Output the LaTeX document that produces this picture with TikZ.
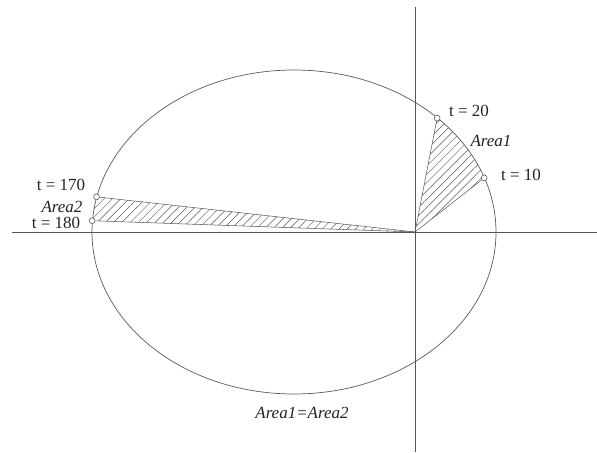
\documentclass[tikz,border=0pt]{standalone}
\usepackage{fontspec}
\setmainfont{Liberation Serif}
\usetikzlibrary{patterns.meta,positioning}
\definecolor{axiscolor}{RGB}{85,85,85}
\definecolor{orbitcolor}{RGB}{90,90,90}
\definecolor{labelcolor}{RGB}{35,35,35}

\begin{document}
\begin{tikzpicture}[x=0.03cm,y=0.03cm,
    orbit/.style={orbitcolor, line width=0.6pt},
    axis/.style={axiscolor, line width=0.8pt},
    radius line/.style={orbitcolor, line width=0.45pt},
    posmark/.style={circle, draw=orbitcolor, fill=white, line width=0.5pt, inner sep=0pt, minimum size=5pt},
    tlabel/.style={labelcolor, inner sep=1pt, font=\fontsize{14.5}{16}\selectfont},
    alabel/.style={labelcolor, inner sep=1pt, font=\fontsize{14.5}{16}\selectfont\itshape},
    hatch/.style={pattern={Lines[angle=45,distance=5pt,line width=0.4pt]}, pattern color=orbitcolor}]
  \useasboundingbox (-415,-220) rectangle (182,232);
  % Focus at the origin
  \coordinate (F) at (0,0);
  % Axes
  \coordinate (xl) at (-403,0);
  \coordinate (xr) at (182,0);
  \coordinate (yt) at (0,225);
  \coordinate (yb) at (0,-220);
  % Hatched sectors (clipped to the orbit)
  \begin{scope}
    \clip (-121,0) ellipse [x radius=202, y radius=162];
    \fill[hatch] (F) -- (38:200) -- (79:200) -- cycle;
    \fill[hatch] (F) -- (173.7:400) -- (178:400) -- cycle;
  \end{scope}
  \draw[axis] (xl) -- (xr);
  \draw[axis] (yt) -- (yb);
  % Orbit
  \draw[orbit] (-121,0) ellipse [x radius=202, y radius=162];
  % Positions on the orbit
  \node[posmark] (p10) at (38:87.8) {};
  \node[posmark] (p20) at (79:116) {};
  \node[posmark] (p170) at (173.7:320.4) {};
  \node[posmark] (p180) at (178:323) {};
  \draw[radius line] (F) -- (p10);
  \draw[radius line] (F) -- (p20);
  \draw[radius line] (F) -- (p170);
  \draw[radius line] (F) -- (p180);
  % Labels
  \node[tlabel] (l20) at (54,121) {t = 20};
  \node[tlabel] (l10) at (106,57) {t = 10};
  \node[alabel] (a1) at (76,91) {Area1};
  \node[tlabel] (l170) at (-354,47) {t = 170};
  \node[alabel] (a2) at (-353,25) {Area2};
  \node[tlabel] (l180) at (-359,9) {t = 180};
  \node[alabel] (eq) at (-113,-181) {Area1=Area2};
\end{tikzpicture}
\end{document}
